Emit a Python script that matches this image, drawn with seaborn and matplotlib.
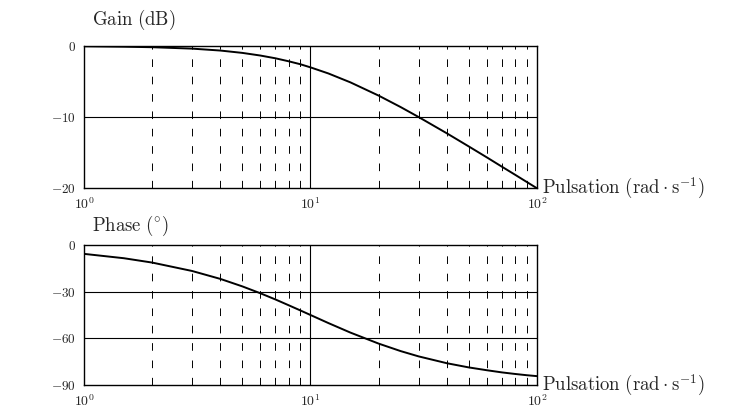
import matplotlib
matplotlib.use("Agg")
import numpy as np
import pandas as pd
import matplotlib.pyplot as plt
import seaborn as sns

# pulsation (rad/s) and the values
pulsation = [1, 1.5, 2, 3, 4, 5, 6, 7, 8, 9, 10, 12, 15, 20, 25, 30, 40, 50, 60, 70, 80, 90, 100]
gain_db = [-0.04, -0.10, -0.17, -0.37, -0.64, -0.97, -1.34, -1.73, -2.15, -2.56, -3.01, -3.87,
           -5.12, -6.99, -8.60, -10.0, -12.30, -14.15, -15.68, -17.0, -18.13, -19.14, -20.04]
phase_deg = [-5.7, -8.5, -11.3, -16.7, -21.8, -26.6, -31.0, -35.0, -38.7, -42.0, -45.0, -50.2,
             -56.3, -63.4, -68.2, -71.6, -76.0, -78.7, -80.5, -81.9, -82.9, -83.7, -84.3]

dashed_x = [2, 3, 4, 5, 6, 7, 8, 9, 20, 30, 40, 50, 60, 70, 80, 90]
solid_x = [10]
xticks = [1, 10, 100]
xtick_labels = [r"$10^{0}$", r"$10^{1}$", r"$10^{2}$"]

gain_ticks = [0, -10, -20]
gain_labels = [r"$\mathbf{0}$", r"$\mathbf{-10}$", r"$\mathbf{-20}$"]
phase_ticks = [0, -30, -60, -90]
phase_labels = [r"$\mathbf{0}$", r"$\mathbf{-30}$", r"$\mathbf{-60}$", r"$\mathbf{-90}$"]

sns.set_theme(style="white")
plt.rcParams["mathtext.fontset"] = "cm"
plt.rcParams["lines.scale_dashes"] = False

df = pd.DataFrame({"w": pulsation, "gain": gain_db, "phase": phase_deg})

fig = plt.figure(figsize=(7.31, 4.17), dpi=100)
ax1 = fig.add_axes([84 / 731, 1 - 188 / 417, 453 / 731, 142 / 417])
ax2 = fig.add_axes([84 / 731, 1 - 385 / 417, 453 / 731, 140 / 417])


def draw(ax, col, yticks, ylabels, hlines, title, title_y):
    for x in dashed_x:
        ax.axvline(x, color="black", lw=0.7, ls=(0, (5.5, 7)), zorder=1)
    for x in solid_x:
        ax.axvline(x, color="black", lw=0.8, zorder=1)
    for y in hlines:
        ax.axhline(y, color="black", lw=0.8, zorder=1)
    sns.lineplot(data=df, x="w", y=col, ax=ax, color="black", lw=1.4, zorder=3)
    ax.set_xscale("log")
    ax.set_xlim(1, 100)
    ax.set_ylim(yticks[-1], yticks[0])
    ax.set_xticks(xticks)
    ax.set_xticklabels(xtick_labels, fontsize=10)
    ax.minorticks_off()
    ax.set_yticks(yticks)
    ax.set_yticklabels(ylabels, fontsize=9.5)
    ax.tick_params(axis="x", length=0, pad=6)
    ax.tick_params(axis="y", length=0, pad=6)
    ax.set_xlabel("")
    ax.set_ylabel("")
    for s in ax.spines.values():
        s.set_color("black")
        s.set_linewidth(1.0)
    ax.text(1.012, 0, r"$\mathrm{Pulsation\ (rad}\cdot\mathrm{s}^{-1}\mathrm{)}$",
            transform=ax.transAxes, ha="left", va="center", fontsize=13.5)
    fig.text(92 / 731, title_y, title, ha="left", va="center", fontsize=13.5)


draw(ax1, "gain", gain_ticks, gain_labels, [-10], r"$\mathrm{Gain\ (dB)}$", 1 - 20 / 417)
draw(ax2, "phase", phase_ticks, phase_labels, [-30, -60], r"$\mathrm{Phase\ (^{\circ})}$", 1 - 226 / 417)

fig.savefig("out.png", dpi=100)
